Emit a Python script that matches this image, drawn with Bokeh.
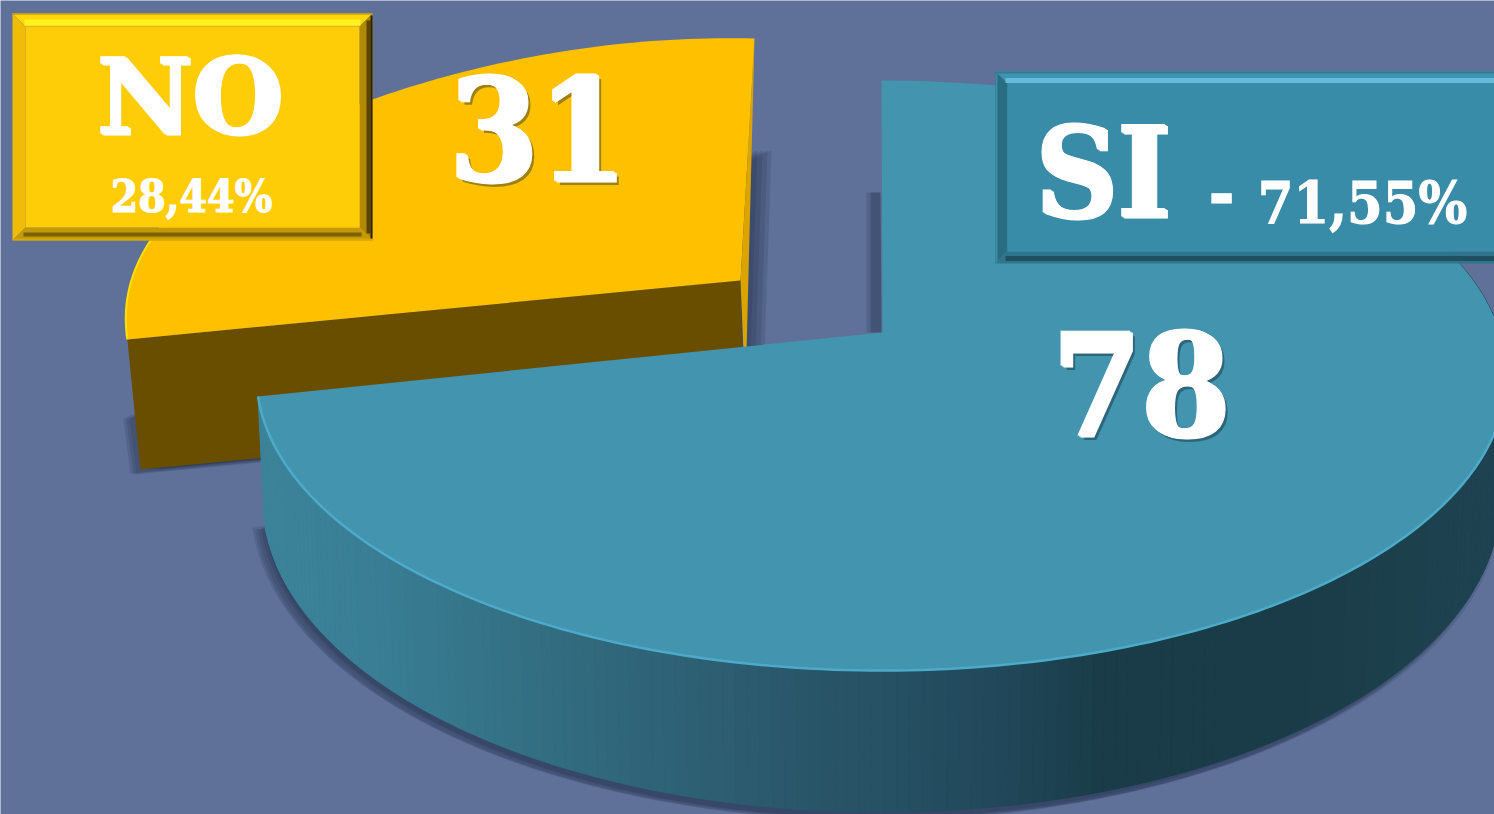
import math
from bokeh.plotting import figure
from bokeh.models import Range1d
from bokeh.core.properties import value
from bokeh.embed import file_html
from bokeh.resources import INLINE

# --- data ---
categories = ["SI", "NO"]
counts = [78, 31]
percent_labels = ["71,55%", "28,44%"]

# --- style ---
BG = "#5f7199"
TEAL = "#4294af"
TEAL_RIM = "#4dabca"
YELLOW = "#ffc000"
YELLOW_RIM = "#ffe000"
YELLOW_SIDE = "#dca400"
BROWN = "#6a4e00"
SHADOW = "#1d2a45"
WALL_STOPS = [(265, (60, 131, 154)), (400, (56, 124, 146)), (560, (50, 108, 128)),
              (800, (42, 86, 106)), (1000, (33, 72, 90)), (1100, (25, 60, 72)),
              (1300, (26, 60, 72)), (1500, (31, 67, 81))]

# --- projected pie geometry (reference pixel space) ---
CX, CY, RX, RY, APEX_UP = 881, 375, 625, 295, 43
PC = APEX_UP / RY
K = RX * math.sqrt(1 - PC * PC)
sweep_si = 360 * counts[0] / sum(counts)


def project(deg):
    t = math.radians(deg)
    u, v = math.sin(t), math.cos(t)
    w = 1 + PC * v
    return K * u / w, (RY * v + PC * RY) / w


def teal_top(deg):
    X, Y = project(deg)
    return CX + X, CY - Y


def teal_low(deg):
    X, Y = project(deg)
    return CX + 0.99 * X, CY + 124 - 1.06 * Y


def yellow_top(deg):
    X, Y = project(deg)
    s = (deg - sweep_si) / (360 - sweep_si)
    return 754 + 1.006 * X, CY - 42 - Y + 0.024 * X + 10 * math.sin(math.pi * s) ** 2


def wall_color(x):
    for (x0, c0), (x1, c1) in zip(WALL_STOPS, WALL_STOPS[1:]):
        if x <= x1:
            f = max(0, (x - x0) / (x1 - x0))
            return "#%02x%02x%02x" % tuple(round(a + (b - a) * f) for a, b in zip(c0, c1))
    return "#%02x%02x%02x" % WALL_STOPS[-1][1]


def frange(a, b, step=1.0):
    n = int(abs(b - a) / step) + 1
    return [a + (b - a) * i / n for i in range(n + 1)]


p = figure(width=1494, height=814, x_range=Range1d(0, 1494), y_range=Range1d(814, 0),
           toolbar_location=None, output_backend="svg", min_border=0,
           background_fill_color=BG, border_fill_color=BG, outline_line_color=None)
p.axis.visible = False
p.grid.visible = False


def poly(pts, color, alpha=1.0):
    p.patch([a for a, _ in pts], [b for _, b in pts], fill_color=color, fill_alpha=alpha,
            line_color=None)


def soft_shadow(pts, offsets, alpha):
    for dx, dy in offsets:
        poly([(a + dx, b + dy) for a, b in pts], SHADOW, alpha)


yellow_arc = [yellow_top(d) for d in frange(sweep_si, 360)]
y_left, y_top = yellow_arc[0], yellow_arc[-1]
y_apex = (CX - 141, 332 - 52)
y_wall_left = (y_left[0] + 13, y_left[1] + 130)
y_wall_right = (y_apex[0] + 3, y_apex[1] + 72)
y_wall_hidden = (y_apex[0] + 3, y_apex[1] + 132)

# --- shadows behind the yellow slice ---
soft_shadow([(y_left[0] + 6, y_left[1] + 75), y_wall_left, y_wall_hidden, (y_top[0] - 2, 150)],
            [(-10, 4), (-7, 5), (-4, 4), (5, 0), (10, 0), (15, 0), (19, 0)], 0.16)
# --- shadow behind the teal slice's back edge ---
poly([(880, 192), (881, 332), (870, 332), (870, 192)], SHADOW, 0.42)
poly([(870, 192), (870, 332), (866, 332), (866, 192)], SHADOW, 0.18)

# --- yellow slice ---
poly([y_left, y_wall_left, y_wall_hidden, y_apex], BROWN)
poly([y_top, y_apex, y_wall_right, (y_wall_right[0] + 3, y_wall_right[1])], YELLOW_SIDE)
poly(yellow_arc + [y_apex], YELLOW)
p.line([a for a, b in yellow_arc[:30]], [b for a, b in yellow_arc[:30]],
       line_color=YELLOW_RIM, line_width=2)

# --- teal slice: shadow, wall, top ---
rim_angles = frange(sweep_si, 70)
low_rim = [teal_low(d) for d in rim_angles]
top_rim = [teal_top(d) for d in rim_angles]
soft_shadow(low_rim, [(-12, 6), (-9, 8), (-6, 8), (-3, 6), (0, 6)], 0.15)

xs, ys, colors = [], [], []
for (a0, b0), (a1, b1), (c0, d0), (c1, d1) in zip(top_rim, top_rim[1:], low_rim, low_rim[1:]):
    xs.append([a0, a1, c1, c0])
    ys.append([b0, b1, d1, d0])
    colors.append(wall_color((a0 + a1) / 2))
p.patches(xs, ys, fill_color=colors, line_color=colors, line_width=1)

teal_arc = [teal_top(d) for d in frange(0, sweep_si)]
poly(teal_arc + [(CX + 1, 332)], TEAL)
rim = [teal_top(d) for d in frange(sweep_si, 95)]
p.line([a for a, b in rim], [b for a, b in rim], line_color=TEAL_RIM, line_width=2.5)


# --- bevelled label boxes ---
def box(x0, y0, x1, y1, b, face, top, left, right, bottom):
    poly([(x0, y0), (x1, y0), (x1 - b, y0 + b), (x0 + b, y0 + b)], top)
    poly([(x0, y0), (x0 + b, y0 + b), (x0 + b, y1 - b), (x0, y1)], left)
    poly([(x1, y0), (x1, y1), (x1 - b, y1 - b), (x1 - b, y0 + b)], right)
    poly([(x0, y1), (x0 + b, y1 - b), (x1 - b, y1 - b), (x1, y1)], bottom)
    poly([(x0 + b, y0 + b), (x1 - b, y0 + b), (x1 - b, y1 - b), (x0 + b, y1 - b)], face)


box(12, 13, 372, 240, 13, "#ffcc08", "#ffd60a", "#f0bc06", "#b08a05", "#c29a07")
p.line([24, 360], [22, 22], line_color="#fff020", line_width=6)
p.line([12, 372], [13.5, 13.5], line_color="#c99c08", line_width=1.5)
p.line([23, 361], [234, 234], line_color="#7d6005", line_width=4)
p.line([12, 372], [239, 239], line_color="#d8a80a", line_width=2)
p.line([368, 368], [20, 233], line_color="#5a4503", line_width=4)
p.line([371, 371], [15, 238], line_color="#2d2300", line_width=2)

box(995, 71, 1510, 263, 12, "#398ca7", "#3f93ae", "#2a6d83", "#2a6d83", "#2e748b")
p.line([1005, 1494], [80, 80], line_color="#63bdda", line_width=5)
p.line([995, 1494], [72, 72], line_color="#2e7c95", line_width=2)
p.line([1005, 1494], [258, 258], line_color="#205060", line_width=5)
p.line([996, 996], [73, 262], line_color="#3d8aa4", line_width=2)


def label(x, y, text, size, family="DejaVu Serif", shadow=False, heavy=False):
    """Text centred on (x, y), y being the middle of the capitals."""
    common = dict(text=[text], text_font=value(family), text_font_style="bold", text_font_size=size,
                  text_align="center", text_baseline="middle")
    if shadow:
        p.text([x + 4], [y + 4], text_color="#10202c", text_alpha=0.4, **common)
    if heavy:
        p.text([x - 1.5], [y - 1], text_color="white", text_outline_color="white", **common)
        p.text([x + 1.5], [y + 1], text_color="white", text_outline_color="white", **common)
    p.text([x], [y], text_color="white", text_outline_color="white", **common)


COND = "DejaVu Serif Condensed"
label(190, 97, categories[1], "104px", heavy=True)
label(191, 196, percent_labels[1], "44px", COND)
label(538, 128, str(counts[1]), "142px", COND, shadow=True, heavy=True)
label(1103, 172, categories[0], "126px", COND, heavy=True)
label(1221, 191, "-", "70px", COND)
label(1362, 202, percent_labels[0], "57px", COND)
label(1141, 383, str(counts[0]), "142px", COND, shadow=True, heavy=True)

open("out.html", "w").write(file_html(p, INLINE))
